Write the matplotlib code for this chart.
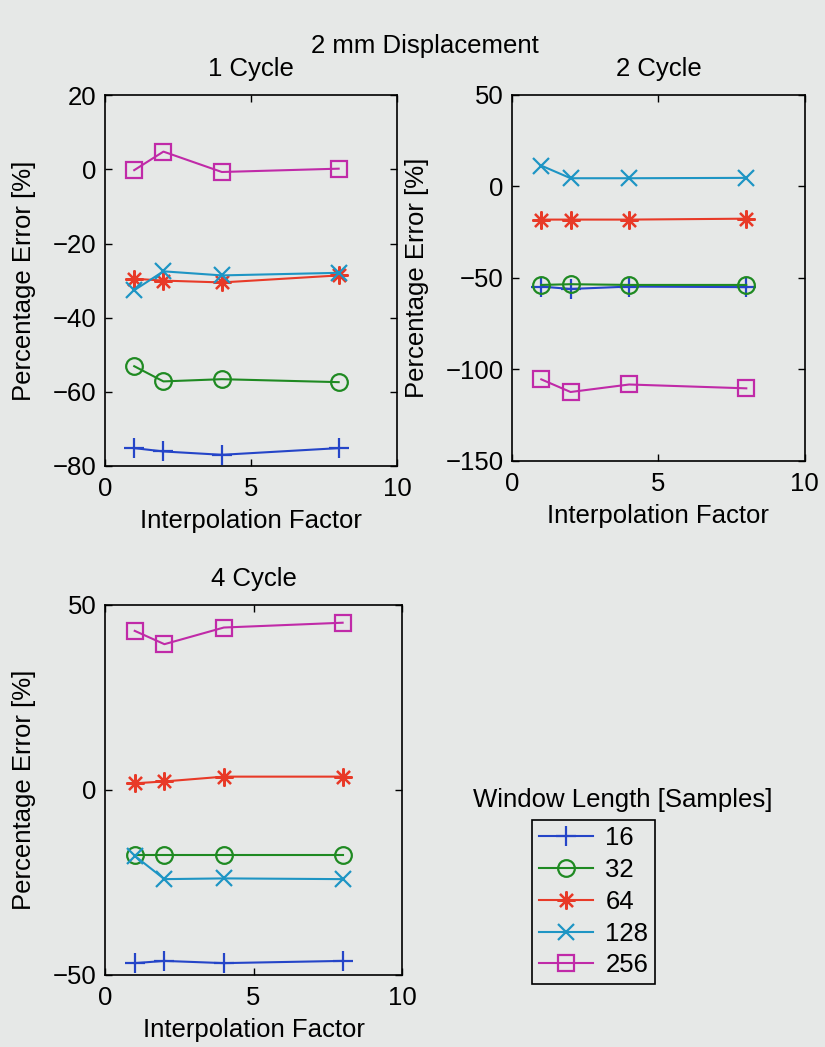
import matplotlib
matplotlib.use("Agg")
import matplotlib.pyplot as plt

plt.rcParams['font.family'] = ['Liberation Sans', 'DejaVu Sans']
plt.rcParams['axes.unicode_minus'] = True

interp_factor = [1, 2, 4, 8]
window_lengths = ['16', '32', '64', '128', '256']

# 1 Cycle
cyc1_16 = [-75.2, -76.1, -77.0, -75.2]
cyc1_32 = [-53.1, -57.2, -56.6, -57.4]
cyc1_64 = [-29.5, -30.0, -30.5, -28.6]
cyc1_128 = [-32.6, -27.5, -28.6, -27.9]
cyc1_256 = [-0.2, 4.8, -0.7, 0.2]

# 2 Cycle
cyc2_16 = [-54.7, -56.0, -54.7, -55.0]
cyc2_32 = [-53.8, -53.4, -53.8, -53.8]
cyc2_64 = [-18.1, -18.1, -18.1, -17.6]
cyc2_128 = [11.4, 4.5, 4.5, 4.7]
cyc2_256 = [-105.4, -112.3, -108.2, -110.3]

# 4 Cycle
cyc4_16 = [-46.8, -46.2, -46.8, -46.2]
cyc4_32 = [-17.6, -17.6, -17.6, -17.6]
cyc4_64 = [1.8, 2.3, 3.6, 3.6]
cyc4_128 = [-17.8, -24.1, -23.9, -24.1]
cyc4_256 = [43.0, 39.4, 43.9, 45.2]

colors = ['#2545c8', '#1f8a22', '#e83a28', '#1e95c4', '#c02aa8']
markers = ['+', 'o', (8, 2, 0), 'x', 's']
msizes = [14, 12, 13, 11, 11]

FS = 18.5
bg = '#e6e8e7'
fig = plt.figure(figsize=(8.25, 10.47), dpi=100, facecolor=bg)

def setup(ax, ylim, yticks, title):
    ax.set_facecolor(bg)
    ax.set_xlim(0, 10)
    ax.set_ylim(*ylim)
    ax.set_xticks([0, 5, 10])
    ax.set_yticks(yticks)
    ax.tick_params(direction='in', top=True, right=True, labelsize=FS, length=5, width=1)
    ax.tick_params(axis='x', pad=8)
    ax.tick_params(axis='y', pad=6)
    ax.set_xlabel('Interpolation Factor', fontsize=FS, labelpad=6)
    ax.set_ylabel('Percentage Error [%]', fontsize=FS, labelpad=12)
    ax.set_title(title, fontsize=FS, pad=14)
    for s in ax.spines.values():
        s.set_linewidth(1.2)

def draw(ax, series):
    lines = []
    for vals, c, m, ms, lab in zip(series, colors, markers, msizes, window_lengths):
        ln, = ax.plot(interp_factor, vals, color=c, marker=m, markersize=ms,
                      markerfacecolor='none', markeredgewidth=1.6, linewidth=1.5, label=lab)
        lines.append(ln)
    return lines

ax1 = fig.add_axes([0.1273, 0.555, 0.354, 0.354])
setup(ax1, (-80, 20), [-80, -60, -40, -20, 0, 20], '1 Cycle')
draw(ax1, [cyc1_16, cyc1_32, cyc1_64, cyc1_128, cyc1_256])

ax2 = fig.add_axes([0.6206, 0.5597, 0.355, 0.3496])
setup(ax2, (-150, 50), [-150, -100, -50, 0, 50], '2 Cycle')
draw(ax2, [cyc2_16, cyc2_32, cyc2_64, cyc2_128, cyc2_256])

ax3 = fig.add_axes([0.1273, 0.0688, 0.36, 0.3534])
setup(ax3, (-50, 50), [-50, 0, 50], '4 Cycle')
lines = draw(ax3, [cyc4_16, cyc4_32, cyc4_64, cyc4_128, cyc4_256])

fig.text(0.515, 0.956, '2 mm Displacement', fontsize=FS, ha='center', va='center')

leg = fig.legend(handles=lines, labels=window_lengths, loc='upper left',
                 bbox_to_anchor=(0.645, 0.2168), bbox_transform=fig.transFigure,
                 borderaxespad=0,
                 fontsize=FS, frameon=True, fancybox=False, edgecolor='black',
                 handlelength=2.1, labelspacing=0.3, borderpad=0.25, handletextpad=0.5,
                 facecolor=bg, framealpha=1)
leg.get_frame().set_linewidth(1.2)
fig.text(0.755, 0.236, 'Window Length [Samples]', fontsize=FS, ha='center', va='center')

fig.savefig('out.png', dpi=100, facecolor=bg)
